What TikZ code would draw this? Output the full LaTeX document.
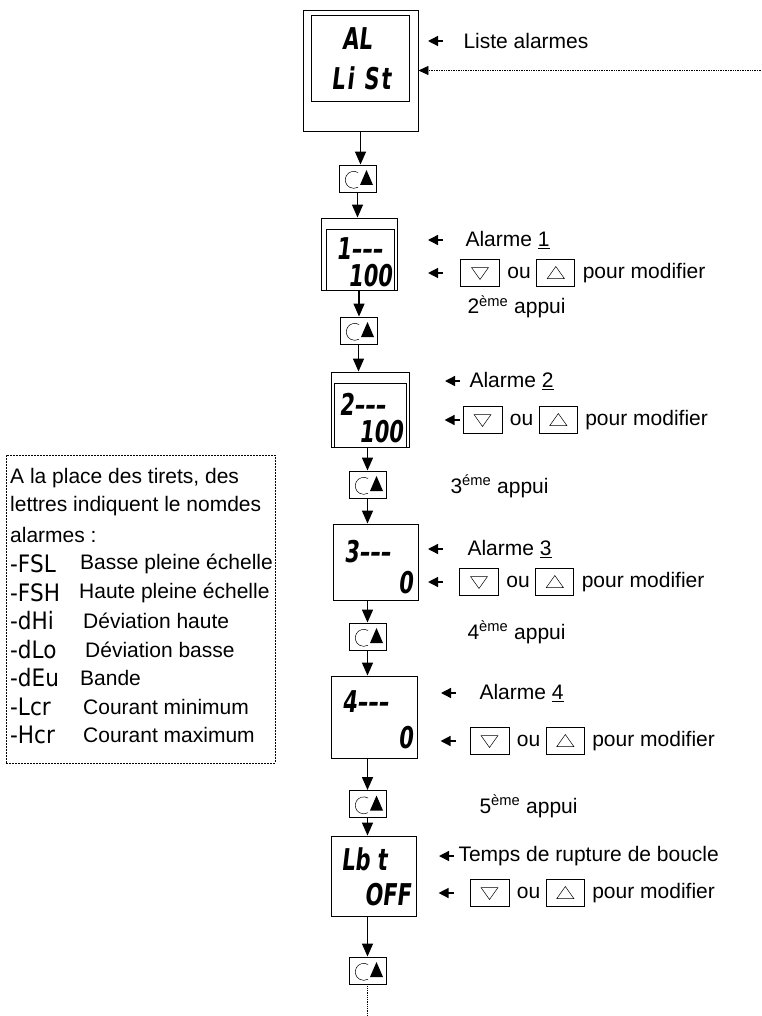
\documentclass[tikz,border=0pt]{standalone}
\usepackage{fontspec}
\setmainfont{Liberation Sans}
\newfontfamily\lcdfont[FakeStretch=0.7,FakeSlant=0.12]{DejaVu Sans}
\newfontfamily\codefont[FakeStretch=0.9]{DejaVu Sans}
\usetikzlibrary{arrows.meta,positioning}

\begin{document}
\begin{tikzpicture}[x=1pt,y=-1pt,font=\fontsize{21}{24}\selectfont,
    box/.style={draw,line width=0.9pt,inner sep=0pt},
    lcd/.style={font=\lcdfont\bfseries\fontsize{30}{30}\selectfont,inner sep=0pt},
    flow/.style={line width=1.4pt,-{Triangle[length=13pt,width=11pt]}},
    ptr/.style={line width=1.4pt,-{Triangle[length=10pt,width=10pt]}},
    btn/.style={box,minimum width=37pt,minimum height=27pt,
      path picture={
        \draw[line width=0.5pt] ([shift={(0.5pt,6pt)}]path picture bounding box.center)
          arc[start angle=60,end angle=300,radius=8.5pt];
        \fill ([shift={(9pt,8.5pt)}]path picture bounding box.center)
          -- ++(-6.5pt,-15pt) -- ++(13pt,0pt) -- cycle;}},
    keydn/.style={box,minimum width=39pt,minimum height=27pt,
      path picture={\draw[line width=0.5pt] ([shift={(-8.5pt,5.5pt)}]path picture bounding box.center)
        -- ++(17pt,0pt) -- ++(-8.5pt,-12pt) -- cycle;}},
    keyup/.style={box,minimum width=38pt,minimum height=27pt,
      path picture={\draw[line width=0.5pt] ([shift={(-8.5pt,-5.5pt)}]path picture bounding box.center)
        -- ++(17pt,0pt) -- ++(-8.5pt,12pt) -- cycle;}},
    legtext/.style={anchor=west,inner sep=0pt},
    segcode/.style={legtext,font=\codefont\fontsize{24}{24}\selectfont},
  ]
  \useasboundingbox (0,0) rectangle (761,1016);

  % alarm list header
  \node[box,minimum width=115pt,minimum height=121pt] (alist) at (360.5,70.5) {};
  \node[box,minimum width=98pt,minimum height=86pt] (alwin) at (360,58) {};
  \node[lcd,anchor=west] (altop) at (342,38.5) {AL};
  \node[lcd,anchor=west] (albot) at (331,78.5) {\addfontfeature{LetterSpace=7}Li St};
  \node[anchor=west] (lal) at (460,41) {Liste alarmes};
  \draw[ptr] ([xshift=-17pt]lal.west) -- ++(-15,0);
  \coordinate (ret) at (761,70.5);
  \draw[densely dotted,line width=0.7pt,-{Triangle[length=10pt,width=9pt]}] (ret) -- (alist.east);

  % alarm 1
  \node[btn] (b1) at (357.5,178.5) {};
  \draw[flow] (alist.south) -- (alist.south |- b1.north);
  \node[box,minimum width=76pt,minimum height=72pt] (d1) at (359,254) {};
  \node[box,minimum width=68pt,minimum height=61pt] (d1win) at (360,259.5) {};
  \node[lcd,anchor=west] (d1top) at (336,248.5) {1–––};
  \node[lcd,anchor=east] (d1bot) at (392,275.5) {100};
  \draw[flow] (b1.south) -- (b1.south |- d1.north);
  \node[anchor=west] (a1) at (462,240) {Alarme \underline{1}};
  \draw[ptr] ([xshift=-19pt]a1.west) -- ++(-15,0);
  \node[keydn] (dn1) at (480,273) {};
  \node[right=4pt of dn1] (ou1) {ou};
  \node[keyup,right=2pt of ou1] (up1) {};
  \node[right=4pt of up1] (pm1) {pour modifier};
  \draw[ptr] ([xshift=-17pt]dn1.west) -- ++(-15,0);
  \node[anchor=west] (ap2) at (464,307) {2\textsuperscript{ème} appui};

  % alarm 2
  \node[btn] (b2) at (358.5,330.5) {};
  \draw[flow] (d1.south) -- (d1.south |- b2.north);
  \node[box,minimum width=78pt,minimum height=75pt] (d2) at (370,409.5) {};
  \node[box,minimum width=72pt,minimum height=64pt] (d2win) at (370,415) {};
  \node[lcd,anchor=west] (d2top) at (339,404) {2–––};
  \node[lcd,anchor=east] (d2bot) at (403,431.5) {100};
  \draw[flow] (b2.south) -- (b2.south |- d2.north);
  \node[anchor=west] (a2) at (466,381) {Alarme \underline{2}};
  \draw[ptr] ([xshift=-6pt]a2.west) -- ++(-15,0);
  \node[keydn] (dn2) at (482.5,420) {};
  \node[right=4pt of dn2] (ou2) {ou};
  \node[keyup,right=2pt of ou2] (up2) {};
  \node[right=4pt of up2] (pm2) {pour modifier};
  \draw[ptr] ([xshift=-3pt]dn2.west) -- ++(-15,0);
  \node[anchor=west] (ap3) at (447,486) {3\textsuperscript{éme} appui};

  % alarm 3
  \node[btn] (b3) at (367.5,484.5) {};
  \draw[flow] (b3.north |- d2.south) -- (b3.north);
  \node[box,minimum width=85pt,minimum height=76pt] (d3) at (375.5,562) {};
  \node[lcd,anchor=west] (d3top) at (344,552) {3–––};
  \node[lcd,anchor=east] (d3bot) at (413,583) {0};
  \draw[flow] (b3.south) -- (b3.south |- d3.north);
  \node[anchor=west] (a3) at (464,549) {Alarme \underline{3}};
  \draw[ptr] ([xshift=-21pt]a3.west) -- ++(-15,0);
  \node[keydn] (dn3) at (479,582) {};
  \node[right=4pt of dn3] (ou3) {ou};
  \node[keyup,right=2pt of ou3] (up3) {};
  \node[right=4pt of up3] (pm3) {pour modifier};
  \draw[ptr] ([xshift=-16pt]dn3.west) -- ++(-15,0);
  \node[anchor=west] (ap4) at (464,632) {4\textsuperscript{ème} appui};

  % alarm 4
  \node[btn] (b4) at (367.5,636.5) {};
  \draw[flow] (b4.north |- d3.south) -- (b4.north);
  \node[box,minimum width=86pt,minimum height=82pt] (d4) at (374,717) {};
  \node[lcd,anchor=west] (d4top) at (342,702) {4–––};
  \node[lcd,anchor=east] (d4bot) at (413,738) {0};
  \draw[flow] (b4.south) -- (b4.south |- d4.north);
  \node[anchor=west] (a4) at (476,693) {Alarme \underline{4}};
  \draw[ptr] ([xshift=-20pt]a4.west) -- ++(-15,0);
  \node[keydn] (dn4) at (489.5,741) {};
  \node[right=4pt of dn4] (ou4) {ou};
  \node[keyup,right=2pt of ou4] (up4) {};
  \node[right=4pt of up4] (pm4) {pour modifier};
  \draw[ptr] ([xshift=-14pt]dn4.west) -- ++(-15,0);
  \node[anchor=west] (ap5) at (476,806) {5\textsuperscript{ème} appui};

  % loop break time
  \node[btn] (b5) at (367.5,804) {};
  \draw[flow] (b5.north |- d4.south) -- (b5.north);
  \node[box,minimum width=85pt,minimum height=80pt] (d5) at (373.5,876) {};
  \node[lcd,anchor=west] (d5top) at (341,859) {Lb t};
  \node[lcd,anchor=east] (d5bot) at (411,895) {OFF};
  \draw[flow] (b5.south) -- (b5.south |- d5.north);
  \node[anchor=west] (tr) at (455,856) {Temps de rupture de boucle};
  \draw[ptr] ([xshift=-1pt]tr.west) -- ++(-15,0);
  \node[keydn] (dn5) at (489.5,893) {};
  \node[right=4pt of dn5] (ou5) {ou};
  \node[keyup,right=2pt of ou5] (up5) {};
  \node[right=4pt of up5] (pm5) {pour modifier};
  \draw[ptr] ([xshift=-16pt]dn5.west) -- ++(-15,0);

  \node[btn] (b6) at (367.5,970.5) {};
  \draw[flow] (b6.north |- d5.south) -- (b6.north);
  \coordinate (more) at (367.5,1016);
  \draw[densely dotted,line width=0.8pt] (b6.south) -- (more);

  % legend of alarm codes
  \node[draw,dash pattern=on 2pt off 1pt,line width=0.8pt,minimum width=269pt,minimum height=308pt] (leg) at (140.5,609) {};
  \node[legtext] (l1) at (10,478) {A la place des tirets, des};
  \node[legtext] (l2) at (10,506.5) {lettres indiquent le nomdes};
  \node[legtext] (l3) at (10,535) {alarmes :};
  \node[segcode] (c1) at (10,564) {-FSL};  \node[legtext] (t1) at (80,564) {Basse pleine échelle};
  \node[segcode] (c2) at (10,592.5) {-FSH};  \node[legtext] (t2) at (79,592.5) {Haute pleine échelle};
  \node[segcode] (c3) at (10,621) {-dHi};  \node[legtext] (t3) at (83,621) {Déviation haute};
  \node[segcode] (c4) at (10,649.5) {-dLo};  \node[legtext] (t4) at (85,649.5) {Déviation basse};
  \node[segcode] (c5) at (10,678) {-dEu};  \node[legtext] (t5) at (80,678) {Bande};
  \node[segcode] (c6) at (10,706.5) {-Lcr};  \node[legtext] (t6) at (83,706.5) {Courant minimum};
  \node[segcode] (c7) at (10,735) {-Hcr};  \node[legtext] (t7) at (83,735) {Courant maximum};
\end{tikzpicture}
\end{document}
